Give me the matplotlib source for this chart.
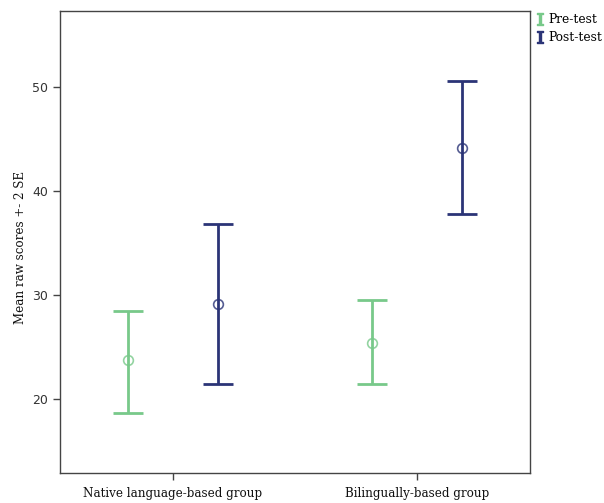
import matplotlib
matplotlib.use("Agg")
import matplotlib.pyplot as plt
from matplotlib.lines import Line2D
import numpy as np

plt.rcParams["mathtext.fontset"] = "dejavuserif"

categories = ["Native language-based group", "Bilingually-based group"]
series = ["Pre-test", "Post-test"]
means = {"Pre-test": [23.7, 25.4], "Post-test": [29.1, 44.1]}
upper = {"Pre-test": [28.5, 29.5], "Post-test": [36.8, 50.5]}
lower = {"Pre-test": [18.7, 21.4], "Post-test": [21.4, 37.8]}
yticks = [20, 30, 40, 50]

colors = {"Pre-test": "#78c98a", "Post-test": "#2b3477"}
offsets = {"Pre-test": -0.184, "Post-test": 0.184}

fig = plt.figure(figsize=(6.04, 5.03), dpi=100)
ax = fig.add_axes([60/604, 1 - 472.7/503, 470/604, 462/503])

x = np.arange(len(categories))
for s in series:
    m = np.array(means[s]); up = np.array(upper[s]); lo = np.array(lower[s])
    ax.errorbar(x + offsets[s], m, yerr=[m - lo, up - m], fmt="none",
                ecolor=colors[s], elinewidth=2, capsize=11, capthick=2)
    ax.plot(x + offsets[s], m, linestyle="none", marker="o", markersize=7,
            markerfacecolor="none", markeredgecolor=colors[s], markeredgewidth=1.2, alpha=0.8)

ax.set_xlim(-0.463, 1.463)
ax.set_ylim(12.92, 57.3)
ax.set_yticks(yticks)
ax.set_yticklabels([str(t) for t in yticks], fontsize=9, color="#333333", family="DejaVu Sans")
ax.set_xticks(x)
ax.set_xticklabels(categories, fontsize=8.6, family="DejaVu Serif", color="#111111")
ax.tick_params(axis="both", direction="out", length=5, width=1, color="#444444")
ax.tick_params(axis="x", pad=5)
for sp in ax.spines.values():
    sp.set_color("#444444")
    sp.set_linewidth(1)
ax.set_ylabel("Mean raw scores +- 2 SE", fontsize=8.6, family="DejaVu Serif", color="#111111")
ax.yaxis.set_label_coords(-0.07, 0.487)

handles = [Line2D([], [], linestyle="none", marker=r"$\mathbf{I}$", markersize=8,
                  color=colors[s]) for s in series]
fig.legend(handles, series, loc="upper left", bbox_to_anchor=(531/604, 1 - 8/503),
           frameon=False, prop={"family": "DejaVu Serif", "size": 8.8},
           handlelength=0.6, handletextpad=0.45, borderaxespad=0, labelspacing=0.4)

fig.savefig("out.png", dpi=100)
